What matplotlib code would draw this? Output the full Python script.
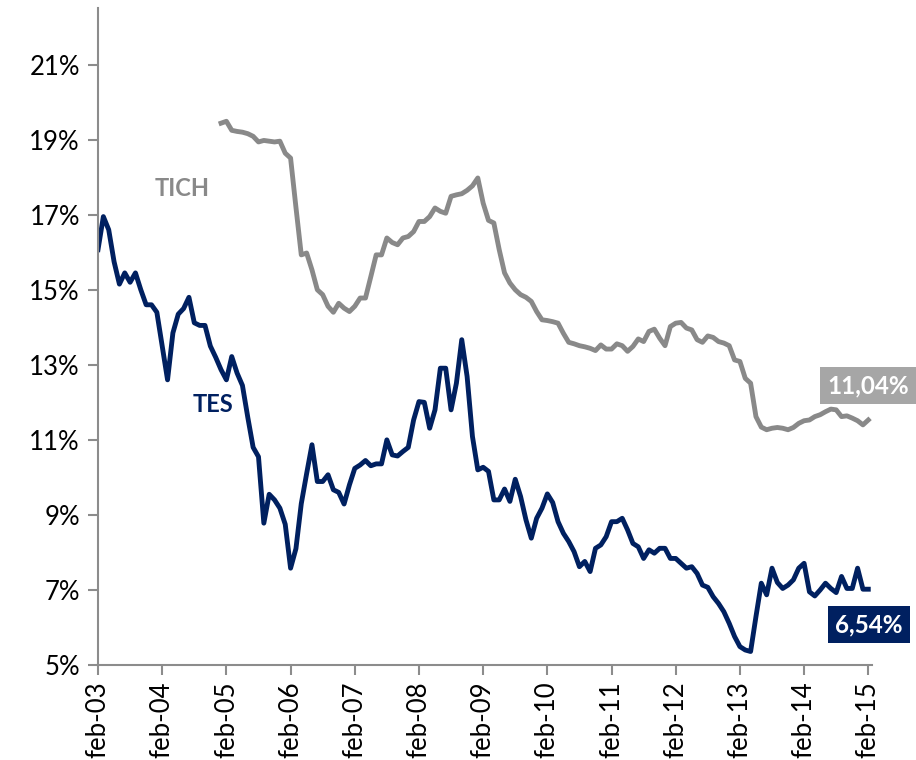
import numpy as np
import matplotlib
matplotlib.use('Agg')
import matplotlib.pyplot as plt

# monthly yields (%), TES from feb-03, TICH from jan-05
tes = [16.07, 16.95, 16.6, 15.75, 15.15, 15.45, 15.2, 15.45, 15.0, 14.6,
       14.6, 14.4, 13.5, 12.6, 13.85, 14.35, 14.5, 14.8, 14.12, 14.05,
       14.05, 13.5, 13.2, 12.87, 12.6, 13.22, 12.78, 12.45, 11.6, 10.8,
       10.55, 8.78, 9.55, 9.4, 9.18, 8.75, 7.58, 8.1, 9.3, 10.1,
       10.87, 9.89, 9.89, 10.07, 9.67, 9.6, 9.29, 9.8, 10.24, 10.33,
       10.45, 10.31, 10.36, 10.36, 11.0, 10.6, 10.57, 10.69, 10.8, 11.53,
       12.02, 12.0, 11.31, 11.8, 12.91, 12.91, 11.8, 12.51, 13.67, 12.69,
       11.09, 10.2, 10.27, 10.16, 9.4, 9.4, 9.69, 9.36, 9.95, 9.49,
       8.87, 8.38, 8.91, 9.18, 9.56, 9.33, 8.82, 8.51, 8.29, 8.02,
       7.62, 7.76, 7.49, 8.11, 8.2, 8.42, 8.82, 8.82, 8.91, 8.6,
       8.24, 8.15, 7.84, 8.07, 7.98, 8.11, 8.11, 7.84, 7.84, 7.71,
       7.58, 7.62, 7.44, 7.13, 7.07, 6.82, 6.64, 6.42, 6.11, 5.76,
       5.49, 5.4, 5.36, 6.29, 7.18, 6.87, 7.58, 7.2, 7.04, 7.13,
       7.27, 7.58, 7.71, 6.95, 6.84, 7.0, 7.18, 7.04, 6.93, 7.36,
       7.04, 7.04, 7.58, 7.02, 7.02]

tich_start = 23
tich = [19.44, 19.49, 19.25, 19.22, 19.2, 19.16, 19.09, 18.94, 18.98, 18.96,
        18.94, 18.96, 18.64, 18.51, 17.2, 15.93, 15.98, 15.53, 15.0, 14.87,
        14.56, 14.4, 14.64, 14.51, 14.42, 14.56, 14.78, 14.78, 15.35, 15.93,
        15.93, 16.38, 16.26, 16.2, 16.38, 16.42, 16.55, 16.82, 16.82, 16.95,
        17.18, 17.09, 17.04, 17.49, 17.53, 17.56, 17.65, 17.77, 17.98, 17.31,
        16.85, 16.78, 16.07, 15.45, 15.18, 15.0, 14.87, 14.8, 14.69, 14.42,
        14.2, 14.18, 14.15, 14.11, 13.84, 13.6, 13.56, 13.51, 13.48, 13.44,
        13.38, 13.53, 13.42, 13.42, 13.56, 13.51, 13.36, 13.49, 13.69, 13.62,
        13.89, 13.95, 13.71, 13.51, 14.02, 14.11, 14.13, 13.98, 13.93, 13.67,
        13.6, 13.77, 13.73, 13.62, 13.58, 13.51, 13.13, 13.09, 12.64, 12.51,
        11.62, 11.34, 11.27, 11.31, 11.33, 11.31, 11.27, 11.33, 11.44, 11.51,
        11.53, 11.62, 11.67, 11.75, 11.82, 11.8, 11.62, 11.64, 11.58, 11.51,
        11.4, 11.53]

xlabels = ['feb-%02d' % y for y in range(3, 16)]
ylevels = [5, 7, 9, 11, 13, 15, 17, 19, 21]

navy = '#002060'
grey = '#898989'
axis_col = '#8c8c8c'

plt.rcParams['font.family'] = ['Lato', 'DejaVu Sans']

fig = plt.figure(figsize=(9.16, 7.6), dpi=100)
ax = fig.add_axes([0.107, 0.125, 0.845, 0.864])

x_tes = np.arange(len(tes))
x_tich = np.arange(tich_start, tich_start + len(tich))
ax.plot(x_tes, tes, color=navy, lw=3.5, solid_joinstyle='round')
ax.plot(x_tich, tich, color=grey, lw=3.5, solid_joinstyle='round')

ax.set_xlim(0, 144.7)
ax.set_ylim(5, 22.5)
ax.set_xticks(np.arange(0, 145, 12))
ax.set_xticklabels(xlabels, rotation=90)
ax.set_yticks(ylevels)
ax.set_yticklabels(['%d%%' % v for v in ylevels])

for s in ['top', 'right']:
    ax.spines[s].set_visible(False)
for s in ['left', 'bottom']:
    ax.spines[s].set_color(axis_col)
    ax.spines[s].set_linewidth(1.5)
ax.tick_params(axis='both', colors=axis_col, length=7, width=1.5,
               labelsize=18.5, labelcolor='black')
ax.tick_params(axis='y', pad=6)
ax.tick_params(axis='x', pad=5)

ax.text(15.8, 17.7, 'TICH', color=grey, fontsize=17, fontweight='bold',
        ha='center', va='center')
ax.text(21.5, 11.95, 'TES', color=navy, fontsize=17, fontweight='bold',
        ha='center', va='center')

ax.text(143.9, 12.45, '11,04%', color='white', fontsize=17.5, fontweight='bold',
        ha='center', va='center', clip_on=False,
        bbox=dict(boxstyle='square,pad=0.3', fc='#a6a6a6', ec='none'))
ax.text(144.1, 6.08, '6,54%', color='white', fontsize=17.5, fontweight='bold',
        ha='center', va='center', clip_on=False,
        bbox=dict(boxstyle='square,pad=0.3', fc=navy, ec='none'))

fig.savefig('out.png', dpi=100)
